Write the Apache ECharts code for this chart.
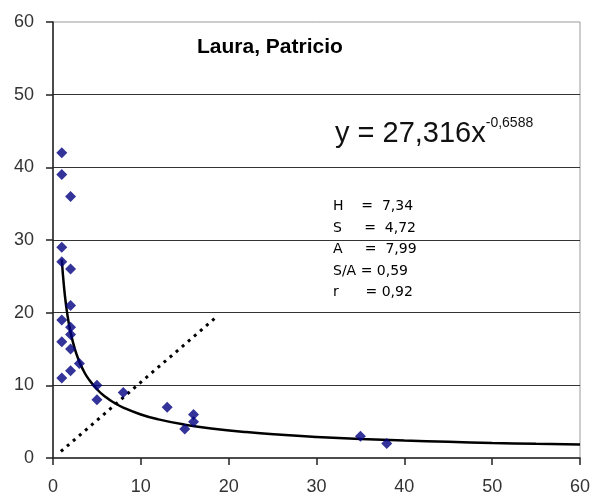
<!DOCTYPE html>
<html>
<head>
<meta charset="utf-8">
<script src="https://cdn.jsdelivr.net/npm/echarts@6/dist/echarts.min.js"></script>
<style>
  html, body { margin: 0; padding: 0; background: #fff; }
  #chart { width: 596px; height: 498px; }
</style>
</head>
<body>
<div id="chart"></div>
<script>
// observed points (x, y)
const obsX = [1, 1, 2, 1, 1, 2, 2, 1, 2, 2, 1, 2, 3, 2, 1, 5, 5, 8, 13, 15, 16, 16, 35, 38]
const obsY = [42, 39, 36, 29, 27, 26, 21, 19, 18, 17, 16, 15, 13, 12, 11, 10, 8, 9, 7, 4, 6, 5, 3, 2]

// fitted power trend y = a * x^b (as printed on the chart)
const fitA = 27.316
const fitB = -0.6588
const fitX = [1, 1.25, 1.5, 1.75, 2, 2.5, 3, 3.5, 4, 5, 6, 7, 8, 10, 12, 15, 18, 22, 26, 30, 35, 40, 45, 50, 55, 60]

// dotted diagonal reference
const diagX = [0.9, 18.4]
const diagY = [0.9, 19.2]

const xTicks = [0, 10, 20, 30, 40, 50, 60]
const statLines = ['H    =  7,34', 'S     =  4,72', 'A     =  7,99', 'S/A = 0,59', 'r      = 0,92']

const chart = echarts.init(document.getElementById('chart'))

const points = obsX.map((x, i) => [x, obsY[i]])
const trend = fitX.map(x => [x, fitA * Math.pow(x, fitB)])
const diag = diagX.map((x, i) => [x, diagY[i]])

const sans = 'Liberation Sans, Arial, sans-serif'
const labelFont = { color: '#333', fontSize: 18, fontFamily: sans }

chart.setOption({
    animation: false,
    backgroundColor: '#fff',
    grid: {
        left: 53, right: 16, top: 22, bottom: 40,
        show: true, borderColor: '#999', borderWidth: 1
    },
    xAxis: {
        type: 'value',
        min: xTicks[0], max: xTicks[xTicks.length - 1], interval: 10,
        axisLine: { show: true, onZero: false, lineStyle: { color: '#222', width: 1.5 } },
        axisTick: { show: true, length: 7, lineStyle: { color: '#222', width: 1.5 } },
        axisLabel: Object.assign({ margin: 20 }, labelFont),
        splitLine: { show: false }
    },
    yAxis: {
        type: 'value',
        min: 0, max: 60, interval: 10,
        axisLine: { show: true, onZero: false, lineStyle: { color: '#222', width: 1.5 } },
        axisTick: { show: true, length: 7, lineStyle: { color: '#222', width: 1.5 } },
        axisLabel: Object.assign({ margin: 19 }, labelFont),
        splitLine: { show: true, showMinLine: false, showMaxLine: false, lineStyle: { color: '#333', width: 1.2 } }
    },
    series: [
        {
            type: 'line',
            data: diag,
            symbol: 'none',
            lineStyle: { color: '#000', width: 3, type: [3, 5] },
            z: 2
        },
        {
            type: 'line',
            data: trend,
            symbol: 'none',
            smooth: true,
            lineStyle: { color: '#000', width: 2.5 },
            z: 3
        },
        {
            type: 'scatter',
            data: points,
            symbol: 'diamond',
            symbolSize: 11,
            itemStyle: { color: '#000080' },
            z: 4
        }
    ],
    graphic: [
        {
            type: 'text', left: 197, top: 37,
            style: { text: 'Laura, Patricio', fill: '#000', font: 'bold 21px ' + sans }
        },
        {
            type: 'text', left: 335, top: 116,
            style: {
                text: '{b|y = 27,316x}{s|-0,6588}',
                rich: {
                    b: { fontSize: 29, fontFamily: sans, fill: '#111', verticalAlign: 'bottom' },
                    s: { fontSize: 14, fontFamily: sans, fill: '#111', verticalAlign: 'top', padding: [0, 0, 18, 0] }
                }
            }
        },
        {
            type: 'text', left: 333, top: 196,
            style: {
                text: statLines.join('\n'),
                fill: '#000',
                font: '14px DejaVu Sans, sans-serif',
                lineHeight: 21.5
            }
        }
    ]
})
</script>
</body>
</html>
